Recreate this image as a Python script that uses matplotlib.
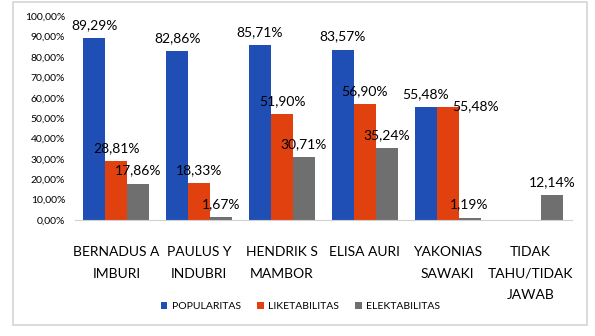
import numpy as np
import matplotlib
matplotlib.use('Agg')
from matplotlib import pyplot as plt
from matplotlib.patches import Rectangle

categories = ['BERNADUS A\nIMBURI', 'PAULUS Y\nINDUBRI', 'HENDRIK S\nMAMBOR',
              'ELISA AURI', 'YAKONIAS\nSAWAKI', 'TIDAK\nTAHU/TIDAK\nJAWAB']
popularitas = [89.29, 82.86, 85.71, 83.57, 55.48, np.nan]
liketabilitas = [28.81, 18.33, 51.90, 56.90, 55.48, np.nan]
elektabilitas = [17.86, 1.67, 30.71, 35.24, 1.19, 12.14]
series_names = ['POPULARITAS', 'LIKETABILITAS', 'ELEKTABILITAS']
colors = ['#1f4fb5', '#e1400f', '#6f6f6f']

plt.rcParams['font.family'] = ['Lato', 'DejaVu Sans']

fig = plt.figure(figsize=(5.95, 3.36), dpi=100)
ax = fig.add_axes([0.126, 0.345, 0.835, 0.607])

x = np.arange(len(categories))
w = 0.265
all_series = [popularitas, liketabilitas, elektabilitas]
for i, (vals, name, c) in enumerate(zip(all_series, series_names, colors)):
    pos = x + (i - 1) * w
    ax.bar(pos, vals, width=w, color=c, label=name)
    for j, v in enumerate(vals):
        if np.isnan(v):
            continue
        dx, dy = 0, 0
        # the excel labels were nudged by hand in a couple of spots
        if i == 1 and j == 4:
            dx, dy = 28, -12
        ax.annotate(('%.2f%%' % v).replace('.', ','), (pos[j], v),
                    xytext=(dx, 7 + dy), textcoords='offset pixels',
                    ha='center', va='bottom', fontsize=10, color='black')

ax.set_xlim(-0.5, len(categories) - 0.5)
ax.set_ylim(0, 100)
ax.set_yticks(np.arange(0, 101, 10))
ax.set_yticklabels([('%.2f%%' % t).replace('.', ',') for t in np.arange(0, 101, 10)],
                   fontsize=7.5, color='black')
ax.set_xticks(x)
ax.set_xticklabels(categories, fontsize=10, linespacing=1.95, color='black')
ax.tick_params(axis='both', length=0)
ax.tick_params(axis='y', pad=7)
ax.tick_params(axis='x', pad=19)
for s in ['top', 'right', 'left']:
    ax.spines[s].set_visible(False)
ax.spines['bottom'].set_color('#d0d0d0')

fig.legend(loc='center', bbox_to_anchor=(0.505, 0.088), ncol=3, frameon=False,
           fontsize=7.5, handlelength=0.6, handleheight=0.6, handletextpad=0.4,
           columnspacing=1.6)

fig.patches.append(Rectangle((13 / 595, 1 - 325 / 336), 574 / 595, 323 / 336,
                             transform=fig.transFigure, fill=False,
                             edgecolor='#d4d4d4', linewidth=1.2))

plt.savefig('out.png', dpi=100)
